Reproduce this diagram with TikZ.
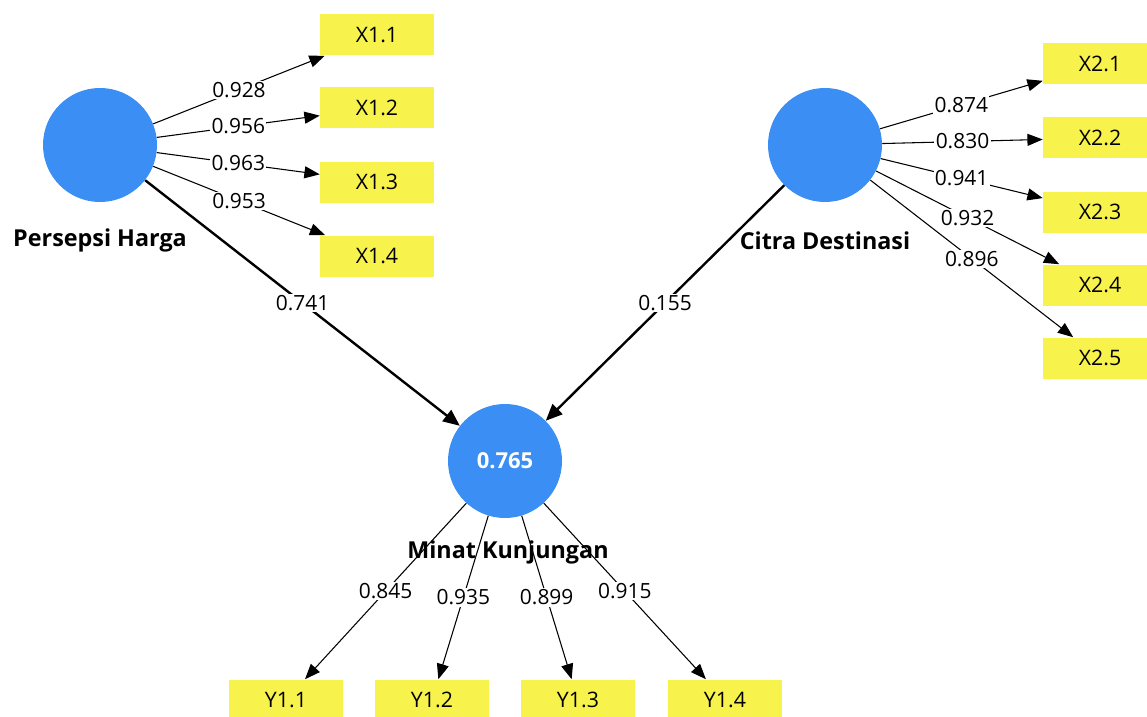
\documentclass[tikz,border=0pt]{standalone}
\usepackage{fontspec}
\setmainfont{Open Sans}
\usetikzlibrary{arrows.meta}
\definecolor{lvblue}{HTML}{3A8EF4}
\definecolor{indyellow}{HTML}{F8F24C}
\begin{document}
\begin{tikzpicture}[x=0.75pt,y=-0.75pt,
  lv/.style={circle, fill=lvblue, minimum size=85.5pt, inner sep=0pt},
  ind/.style={fill=indyellow, minimum width=85.5pt, minimum height=30.75pt, inner sep=0pt, font=\fontsize{16}{19}\selectfont},
  ld/.style={draw=black, line width=0.8pt, -{Triangle[length=11.5pt,width=9pt]}},
  pth/.style={draw=black, line width=1.8pt, -{Triangle[length=12.5pt,width=10.5pt]}},
  val/.style={fill=white, inner sep=1pt, font=\fontsize{15.7}{18}\selectfont},
  lvname/.style={font=\bfseries\fontsize{17.5}{20}\selectfont}
]
\useasboundingbox (0,0) rectangle (1147,717);
\fill[white] (0,0) rectangle (1147,717);

% latent variables
\node[lv] (PH) at (100,145) {};
\node[lv] (CD) at (825,145) {};
\node[lv, text=white, font=\bfseries\fontsize{16.5}{19}\selectfont] (MK) at (505,461) {0.765};
\node[lvname] (PHn) at (100,240) {Persepsi Harga};
\node[lvname] (CDn) at (825,241) {Citra Destinasi};
\node[lvname] (MKn) at (508,552) {Minat Kunjungan};

% indicators X1
\node[ind] (X11) at (377,35) {X1.1};
\node[ind] (X12) at (377,108) {X1.2};
\node[ind] (X13) at (377,182) {X1.3};
\node[ind] (X14) at (377,256) {X1.4};
% indicators X2
\node[ind] (X21) at (1100,64) {X2.1};
\node[ind] (X22) at (1100,138) {X2.2};
\node[ind] (X23) at (1100,212) {X2.3};
\node[ind] (X24) at (1100,285) {X2.4};
\node[ind] (X25) at (1100,358) {X2.5};
% indicators Y
\node[ind] (Y11) at (286,700) {Y1.1};
\node[ind] (Y12) at (432,700) {Y1.2};
\node[ind] (Y13) at (578,700) {Y1.3};
\node[ind] (Y14) at (725,700) {Y1.4};

% structural paths
\draw[pth] (PH) -- node[val]{0.741} (MK);
\draw[pth] (CD) -- node[val]{0.155} (MK);

% outer loadings
\draw[ld] (PH) -- node[val]{0.928} (X11);
\draw[ld] (PH) -- node[val]{0.956} (X12);
\draw[ld] (PH) -- node[val]{0.963} (X13);
\draw[ld] (PH) -- node[val]{0.953} (X14);

\draw[ld] (CD) -- node[val]{0.874} (X21);
\draw[ld] (CD) -- node[val]{0.830} (X22);
\draw[ld] (CD) -- node[val]{0.941} (X23);
\draw[ld] (CD) -- node[val]{0.932} (X24);
\draw[ld] (CD) -- node[val]{0.896} (X25);

\draw[ld] (MK) -- node[val]{0.845} (Y11);
\draw[ld] (MK) -- node[val]{0.935} (Y12);
\draw[ld] (MK) -- node[val]{0.899} (Y13);
\draw[ld] (MK) -- node[val]{0.915} (Y14);
\end{tikzpicture}
\end{document}
